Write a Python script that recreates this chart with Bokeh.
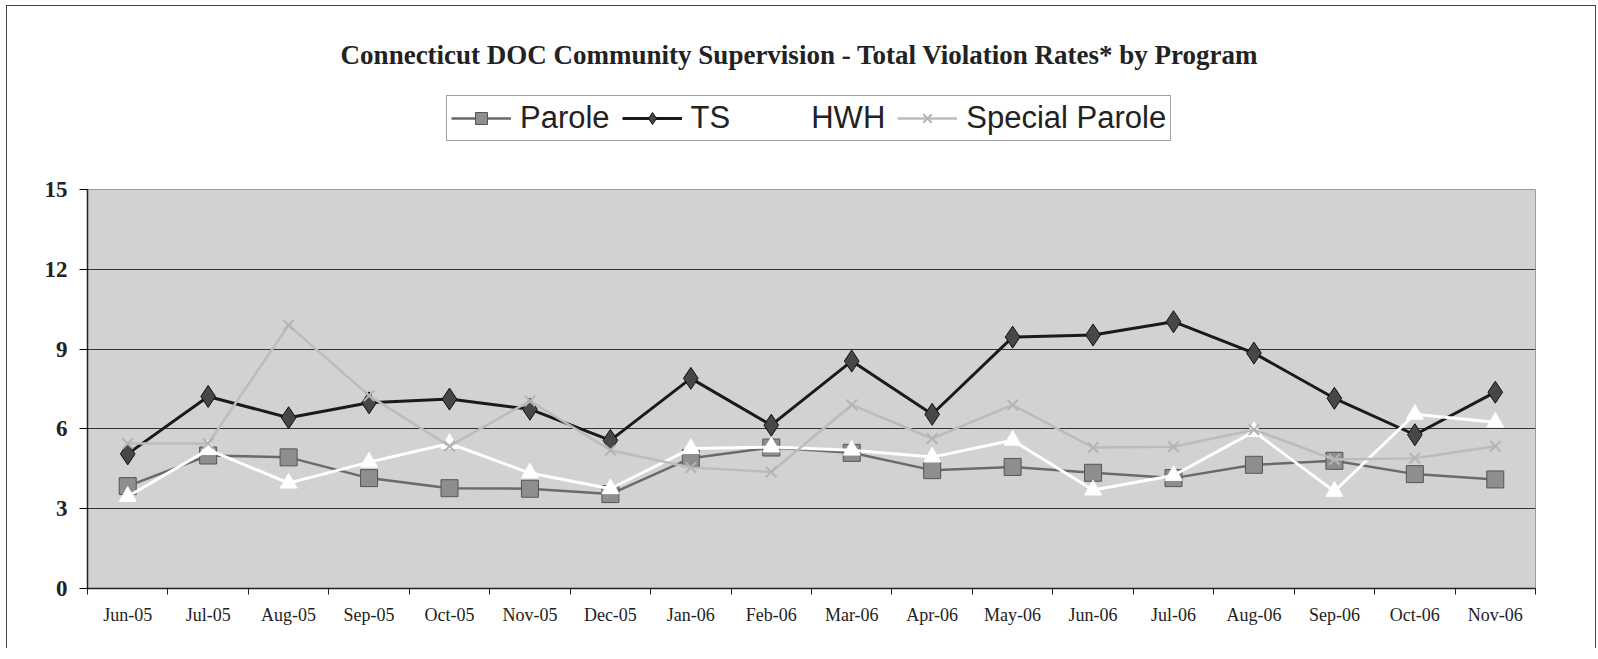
import numpy as np
from bokeh.plotting import figure
from bokeh.layouts import column
from bokeh.models import (Range1d, FixedTicker, Legend, LegendItem, Label)
from bokeh.embed import file_html
from bokeh.resources import INLINE

# ---------------- data ----------------
months = ["Jun-05", "Jul-05", "Aug-05", "Sep-05", "Oct-05", "Nov-05", "Dec-05",
          "Jan-06", "Feb-06", "Mar-06", "Apr-06", "May-06", "Jun-06", "Jul-06",
          "Aug-06", "Sep-06", "Oct-06", "Nov-06"]
parole = [3.85, 5.0, 4.93, 4.15, 3.77, 3.75, 3.55, 4.9, 5.3, 5.1, 4.45, 4.57,
          4.35, 4.15, 4.65, 4.8, 4.3, 4.1]
ts = [5.06, 7.22, 6.42, 6.98, 7.12, 6.74, 5.57, 7.9, 6.14, 8.55, 6.55, 9.45,
      9.53, 10.03, 8.85, 7.15, 5.78, 7.38]
hwh = [3.46, 5.22, 3.96, 4.75, 5.45, 4.34, 3.75, 5.26, 5.32, 5.2, 4.94, 5.57,
       3.7, 4.25, 5.9, 3.65, 6.55, 6.25]
special_parole = [5.45, 5.45, 9.9, 7.25, 5.35, 7.05, 5.2, 4.55, 4.38, 6.9, 5.64,
                  6.9, 5.3, 5.33, 5.97, 4.85, 4.9, 5.35]
y_ticks = [0, 3, 6, 9, 12, 15]
series_names = ["Parole", "TS", "HWH", "Special Parole"]
title_text = "Connecticut DOC Community Supervision - Total Violation Rates* by Program"

series_values = [parole, ts, hwh, special_parole]

W = 1588
HEAD_H = 169

# ---- styles per series ----
line_styles = [dict(line_color="#6a6a6a", line_width=2.5),
               dict(line_color="#1a1a1a", line_width=3),
               dict(line_color="white", line_width=3),
               dict(line_color="#bcbcbc", line_width=2.5)]
marker_styles = [dict(marker="square", size=17, fill_color="#8e8e8e", line_color="#555", line_width=1),
                 dict(marker="diamond", size=22, fill_color="#474747", line_color="#111", line_width=1),
                 dict(marker="triangle", size=17, fill_color="white", line_color="white"),
                 dict(marker="x", size=15, line_color="#b4b4b4", line_width=2)]

xs = np.arange(len(months)) + 0.5

# ---------------- header (title + legend) ----------------
h = figure(width=W, height=HEAD_H, output_backend="svg", toolbar_location=None,
           x_range=Range1d(0, len(months)), y_range=Range1d(0, 15),
           min_border=0, outline_line_color=None, background_fill_color="white",
           border_fill_color="white")
h.axis.visible = False
h.grid.visible = False

items = []
for name, vals, ls, ms in zip(series_names, series_values, line_styles, marker_styles):
    rl = h.line(xs, vals, visible=False, **ls)
    rm = h.scatter(xs, vals, visible=False, **ms)
    items.append(LegendItem(label=name, renderers=[rl, rm]))

legend = Legend(items=items, orientation="horizontal", location=(359, 34),
                label_text_font="Liberation Sans", label_text_font_size="31px",
                label_text_color="#222", glyph_width=60, glyph_height=30,
                label_standoff=9, spacing=12, padding=4, margin=0,
                border_line_color="#444", border_line_width=1,
                background_fill_color="white", background_fill_alpha=1,
                inactive_fill_alpha=0)
h.add_layout(legend, "center")

h.add_layout(Label(x=712, y=121, x_units="screen", y_units="screen",
                   text=title_text, text_align="center", text_baseline="middle",
                   text_font="Liberation Serif", text_font_style="bold",
                   text_font_size="27px", text_color="#222"))

# ---------------- main chart ----------------
p = figure(width=W, height=473, output_backend="svg", toolbar_location=None,
           x_range=Range1d(0, len(months)), y_range=Range1d(0, 15),
           min_border_left=80, min_border_right=60, min_border_top=14,
           min_border_bottom=60, background_fill_color="#d2d2d2",
           border_fill_color="white", outline_line_color="#9a9a9a")

p.yaxis.ticker = FixedTicker(ticks=y_ticks)
p.yaxis.major_label_text_font = "Liberation Serif"
p.yaxis.major_label_text_font_style = "bold"
p.yaxis.major_label_text_font_size = "23px"
p.yaxis.major_label_text_color = "#222"
p.yaxis.major_tick_in = 0
p.yaxis.major_tick_out = 8
p.yaxis.minor_tick_line_color = None
p.yaxis.axis_line_color = "#222"
p.yaxis.axis_line_width = 1.5
p.yaxis.major_label_standoff = 12

p.xaxis.ticker = FixedTicker(ticks=list(xs), minor_ticks=list(range(len(months) + 1)))
p.xaxis.major_label_overrides = {float(x): m for x, m in zip(xs, months)}
p.xaxis.major_tick_line_color = None
p.xaxis.minor_tick_in = 0
p.xaxis.minor_tick_out = 6
p.xaxis.minor_tick_line_color = "#222"
p.xaxis.axis_line_color = "#222"
p.xaxis.axis_line_width = 1.5
p.xaxis.major_label_text_font = "Liberation Serif"
p.xaxis.major_label_text_font_size = "18px"
p.xaxis.major_label_text_color = "#222"
p.xaxis.major_label_standoff = 10

p.xgrid.grid_line_color = None
p.ygrid.ticker = FixedTicker(ticks=[3, 6, 9, 12])
p.ygrid.grid_line_color = "#333"
p.ygrid.grid_line_width = 1

for vals, ls, ms in zip(series_values, line_styles, marker_styles):
    p.line(xs, vals, **ls)
    p.scatter(xs, vals, **ms)

layout = column(h, p, spacing=0, margin=(5, 0, 0, 6),
                styles={"border-top": "1px solid #444", "border-left": "1px solid #444",
                        "border-right": "1px solid #444"})

open("out.html", "w").write(file_html(layout, INLINE))
